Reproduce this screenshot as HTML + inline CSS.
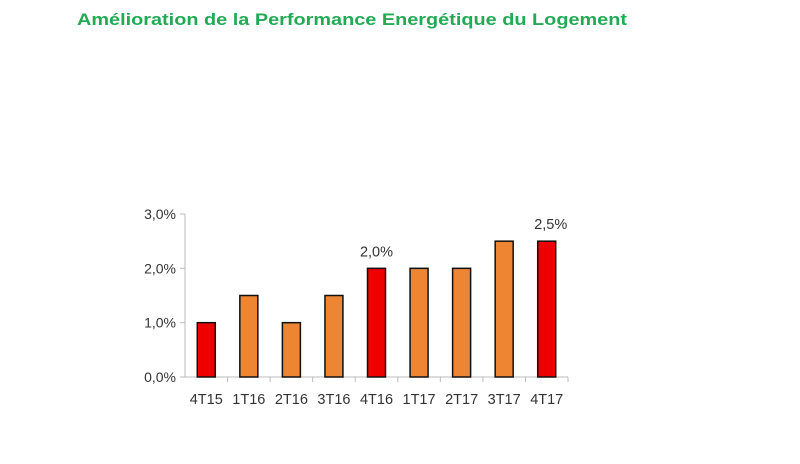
<!DOCTYPE html>
<html><head><meta charset="utf-8"><style>
body{margin:0;width:800px;height:459px;background:#fff;overflow:hidden;font-family:"Liberation Sans",sans-serif}
</style></head><body>
<svg width="800" height="459">
<text x="77" y="25" font-size="17" font-weight="bold" fill="#22aa55" textLength="550" lengthAdjust="spacingAndGlyphs">Amélioration de la Performance Energétique du Logement</text>
<g id="plot"></g>
</svg>
<script>
const categories=["4T15","1T16","2T16","3T16","4T16","1T17","2T17","3T17","4T17"];
const values=[1.0,1.5,1.0,1.5,2.0,2.0,2.0,2.5,2.5];
const highlighted=[true,false,false,false,true,false,false,false,true];
const labels=["","","","","2,0%","","","","2,5%"];
const yTicks=[0,1,2,3];
const yTickLabels=["0,0%","1,0%","2,0%","3,0%"];
const L=185,R=568,Y0=377,Ytop=214,ymax=3;
const NS="http://www.w3.org/2000/svg";
const g=document.getElementById('plot');
const band=(R-L)/categories.length;
const xs=i=>L+band*(i+0.5);
const ys=v=>Y0-(Y0-Ytop)*v/ymax;
function mk(t,a){const e=document.createElementNS(NS,t);for(const k in a)e.setAttribute(k,a[k]);g.appendChild(e);return e;}
let ax=mk('line',{x1:L,y1:ys(0),x2:L,y2:ys(ymax),stroke:'#bbb'});


yTicks.forEach((t,i)=>{
 const tk=mk('line',{x1:L-5,y1:ys(t),x2:L,y2:ys(t),stroke:'#bbb'});
 
 
 const tx=mk('text',{x:L-9,y:ys(t)+5,'text-anchor':'end','font-size':14,fill:'#333'});
 tx.textContent=yTickLabels[i];
 
 
});
let xa=mk('line',{x1:L,y1:ys(0),x2:R,y2:ys(0),stroke:'#bbb'});


categories.forEach((c,i)=>{
 const tk=mk('line',{x1:L+band*(i+1),y1:ys(0),x2:L+band*(i+1),y2:ys(0)+5,stroke:'#bbb'});
 
 
 const b=mk('rect',{x:xs(i)-9,y:ys(values[i]),width:18,height:ys(0)-ys(values[i]),fill:highlighted[i]?'#ee0000':'#ee8533',stroke:'#111','stroke-width':1.5});
 
 
 const tx=mk('text',{x:xs(i),y:404,'text-anchor':'middle','font-size':14.5,fill:'#333'});
 tx.textContent=c;
 
 
 if(labels[i]){
  const dl=mk('text',{x:xs(i)+(i==categories.length-1?4:0),y:ys(values[i])-12,'text-anchor':'middle','font-size':14.5,fill:'#333'});
  dl.textContent=labels[i];
  
  
 }
});
</script>
</body></html>
